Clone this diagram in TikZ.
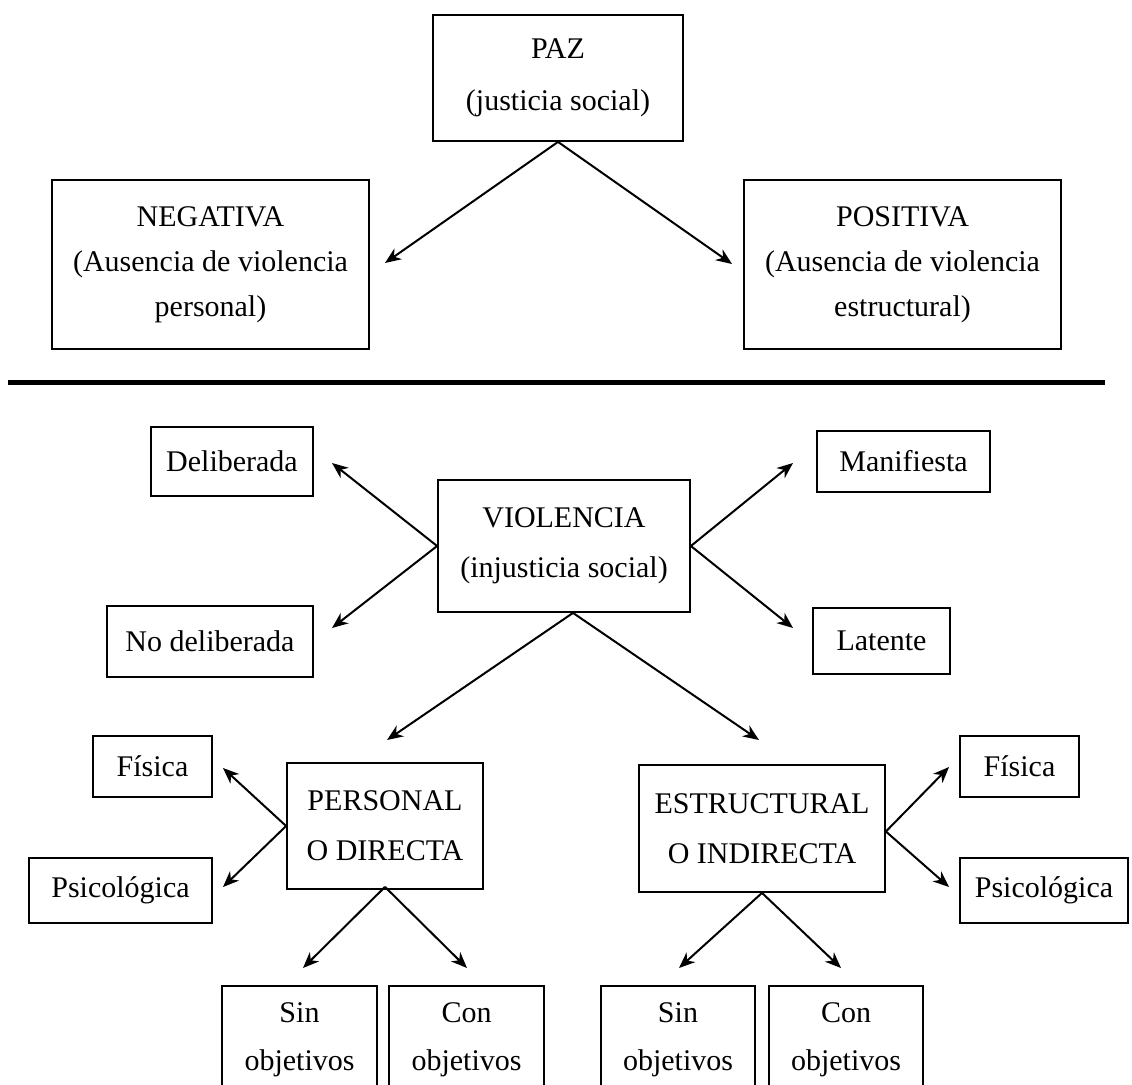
\documentclass[tikz,border=0pt]{standalone}
\usepackage{fontspec}
\setmainfont{Liberation Serif}
\usetikzlibrary{arrows.meta}

\tikzset{
  box/.style={draw, line width=1.8pt, inner sep=0pt, align=center,
    font=\fontsize{30}{48}\selectfont},
  conn/.style={line width=2pt, -{Stealth[length=16pt,width=13pt,inset=5pt]}},
}

% place a box by its corners: name, left, top, right, bottom, text
\newcommand{\boxat}[7][]{%
  \node[box,#1, minimum width={#5-#3}, minimum height={#6-#4}]
    (#2) at ({(#3+#5)/2},{(#4+#6)/2}) {#7};}

\begin{document}
\begin{tikzpicture}[x=1pt,y=-1pt]
\useasboundingbox (0,0) rectangle (1132,1084);
\fill[white] (0,0) rectangle (1132,1084);
\clip (0,0) rectangle (1132,1084);

% ---- peace ----
\boxat[font=\fontsize{30}{52}\selectfont]{paz}{433}{15}{683}{141}{PAZ\\(justicia social)}
\boxat[font=\fontsize{30}{45}\selectfont]{neg}{52}{180}{369}{349}{NEGATIVA\\(Ausencia de violencia\\personal)}
\boxat[font=\fontsize{30}{45}\selectfont]{pos}{744}{180}{1061}{349}{POSITIVA\\(Ausencia de violencia\\estructural)}

\coordinate (tneg) at (385,263);
\coordinate (tpos) at (732,264);
\draw[conn] (paz.south) -- (tneg);
\draw[conn] (paz.south) -- (tpos);

% separator
\draw[line width=5pt] (8,382) -- (1105,382);

% ---- violence ----
\boxat[font=\fontsize{30}{50}\selectfont]{viol}{438}{480}{690}{612}{VIOLENCIA\\(injusticia social)}
\boxat{delib}{151}{427}{313}{496}{Deliberada}
\boxat{nodelib}{107}{606}{313}{677}{No deliberada}
\boxat{manif}{817}{431}{990}{492}{Manifiesta}
\boxat{lat}{813}{608}{950}{674}{Latente}

\coordinate (tdelib) at (332,463);
\coordinate (tnodelib) at (332,628);
\coordinate (tmanif) at (793,463);
\coordinate (tlat) at (793,628);
\draw[conn] (viol.west) -- (tdelib);
\draw[conn] (viol.west) -- (tnodelib);
\draw[conn] (viol.east) -- (tmanif);
\draw[conn] (viol.east) -- (tlat);

\boxat[font=\fontsize{30}{50}\selectfont]{pers}{287}{763}{483}{889}{PERSONAL\\O DIRECTA}
\boxat[font=\fontsize{30}{50}\selectfont]{estr}{639}{765}{885}{892}{ESTRUCTURAL\\O INDIRECTA}

\coordinate (tpers) at (387,740);
\coordinate (testr) at (759,740);
\draw[conn] ([xshift=9pt]viol.south) -- (tpers);
\draw[conn] ([xshift=9pt]viol.south) -- (testr);

% ---- personal branch ----
\boxat{fisA}{93}{736}{212}{797}{Física}
\boxat{psiA}{29}{858}{212}{923}{Psicológica}
\coordinate (tfisA) at (223,768);
\coordinate (tpsiA) at (223,887);
\draw[conn] (pers.west) -- (tfisA);
\draw[conn] (pers.west) -- (tpsiA);

\boxat{sinA}{222}{986}{377}{1094}{Sin\\objetivos}
\boxat{conA}{389}{986}{544}{1094}{Con\\objetivos}
\coordinate (tsinA) at (303,968);
\coordinate (tconA) at (467,968);
\draw[conn] ([yshift=3pt]pers.south) -- (tsinA);
\draw[conn] ([yshift=3pt]pers.south) -- (tconA);

% ---- structural branch ----
\boxat{fisB}{960}{736}{1079}{797}{Física}
\boxat{psiB}{960}{858}{1128}{923}{Psicológica}
\coordinate (tfisB) at (949,767);
\coordinate (tpsiB) at (949,887);
\draw[conn] ([yshift=-3pt]estr.east) -- (tfisB);
\draw[conn] ([yshift=-3pt]estr.east) -- (tpsiB);

\boxat{sinB}{601}{986}{755}{1094}{Sin\\objetivos}
\boxat{conB}{769}{986}{923}{1094}{Con\\objetivos}
\coordinate (tsinB) at (679,968);
\coordinate (tconB) at (841,968);
\draw[conn] (estr.south) -- (tsinB);
\draw[conn] (estr.south) -- (tconB);
\end{tikzpicture}
\end{document}
